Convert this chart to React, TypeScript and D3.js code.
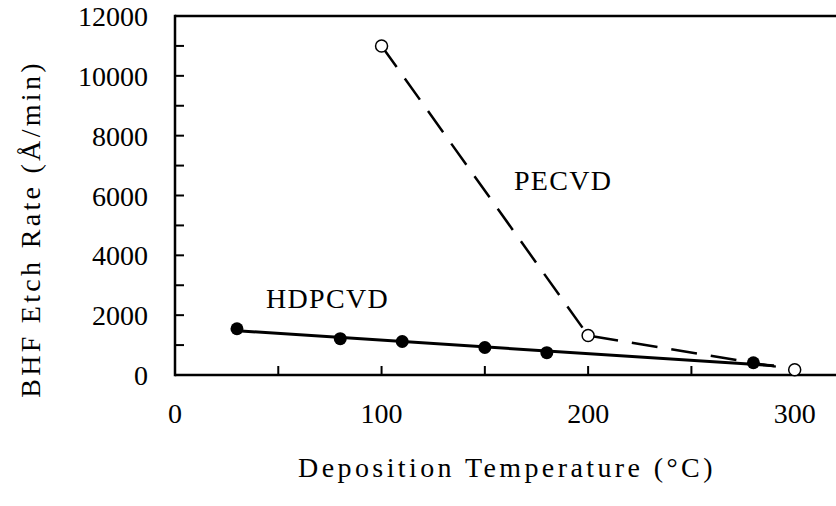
import React from "react";
import * as d3 from "d3";

const hdpTemps = [30, 80, 110, 150, 180, 280];
const hdpRates = [1545, 1215, 1120, 920, 745, 410];
const peTemps = [100, 200, 300];
const peRates = [11000, 1320, 175];
const xTickLabels = [0, 100, 200, 300];
const yTickLabels = [0, 2000, 4000, 6000, 8000, 10000, 12000];
const fitRange = [30, 290];

const W = 836, H = 506;
const M = { left: 175, right: 0, top: 16, bottom: 131 };
const FONT = "'Liberation Serif', 'Times New Roman', serif";
const FS = 28;

export default function App() {
  const x = d3.scaleLinear().domain([0, 320]).range([M.left, W - M.right]);
  const y = d3.scaleLinear().domain([0, 12000]).range([H - M.bottom, M.top]);

  // least squares trendline for HDPCVD
  const n = hdpTemps.length;
  const mx = d3.mean(hdpTemps)!;
  const my = d3.mean(hdpRates)!;
  let sxy = 0, sxx = 0;
  for (let i = 0; i < n; i++) {
    sxy += (hdpTemps[i] - mx) * (hdpRates[i] - my);
    sxx += (hdpTemps[i] - mx) ** 2;
  }
  const slope = sxy / sxx;
  const icpt = my - slope * mx;
  const fit: [number, number][] = fitRange.map((t) => [t, icpt + slope * t]);

  const line = d3.line<[number, number]>().x((d) => x(d[0])).y((d) => y(d[1]));
  const pePts: [number, number][] = peTemps.map((t, i) => [t, peRates[i]]);

  const xMinor = d3.range(50, 320, 50);
  const yMinor = d3.range(1000, 12001, 1000);
  const y0 = y(0);

  return (
    <svg width={W} height={H} style={{ position: "absolute", left: 0, top: 0, background: "#fff" }}>
      {/* axes */}
      <line x1={x(0)} x2={W} y1={y0} y2={y0} stroke="#000" strokeWidth={2.5} />
      <line x1={x(0)} x2={W} y1={y(12000)} y2={y(12000)} stroke="#000" strokeWidth={2.5} />
      <line x1={x(0)} x2={x(0)} y1={y(12000) - 1.25} y2={y0 + 1.25} stroke="#000" strokeWidth={2.5} />
      {xMinor.map((t) => (
        <line key={"xt" + t} x1={x(t)} x2={x(t)} y1={y0} y2={y0 - 9} stroke="#000" strokeWidth={2} />
      ))}
      {yMinor.map((t) => (
        <line key={"yt" + t} x1={x(0)} x2={x(0) + 9} y1={y(t)} y2={y(t)} stroke="#000" strokeWidth={2} />
      ))}
      {xTickLabels.map((t) => (
        <text key={"xl" + t} x={x(t)} y={423} textAnchor="middle" fontFamily={FONT} fontSize={FS}>
          {t}
        </text>
      ))}
      {yTickLabels.map((t) => (
        <text key={"yl" + t} x={148} y={y(t) + 10} textAnchor="end" fontFamily={FONT} fontSize={FS}>
          {t}
        </text>
      ))}
      <text x={507} y={477} textAnchor="middle" fontFamily={FONT} fontSize={FS} letterSpacing={3.4}>
        Deposition Temperature (°C)
      </text>
      <text
        transform={`translate(40,229) rotate(-90)`}
        textAnchor="middle"
        fontFamily={FONT}
        fontSize={FS}
        letterSpacing={3.3}
      >
        BHF Etch Rate (Å/min)
      </text>

      {/* series */}
      <path d={line(pePts)!} fill="none" stroke="#000" strokeWidth={2.5} strokeDasharray="26 14" />
      <path d={line(fit)!} fill="none" stroke="#000" strokeWidth={3} />
      {hdpTemps.map((t, i) => (
        <circle key={"h" + i} cx={x(t)} cy={y(hdpRates[i])} r={6.5} fill="#000" />
      ))}
      {pePts.map((d, i) => (
        <circle key={"p" + i} cx={x(d[0])} cy={y(d[1])} r={6} fill="#fff" stroke="#000" strokeWidth={1.5} />
      ))}

      <text x={514} y={190} fontFamily={FONT} fontSize={FS} letterSpacing={1.3}>PECVD</text>
      <text x={266} y={308} fontFamily={FONT} fontSize={FS} letterSpacing={1.3}>HDPCVD</text>
    </svg>
  );
}
